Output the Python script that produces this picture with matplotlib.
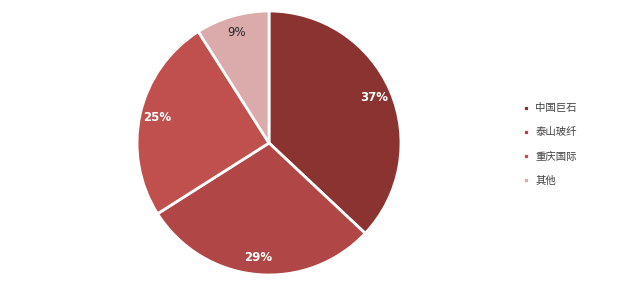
import matplotlib.pyplot as plt

plt.rcParams['font.family'] = ['Noto Sans CJK SC', 'DejaVu Sans']

#-----------Data------------
labels = ["中国巨石", "泰山玻纤", "重庆国际", "其他"]
shares = [37, 29, 25, 9]
colors = ["#8B3331", "#B04645", "#C0504D", "#DBABAB"]
pct_colors = ["white", "white", "white", "#262626"]

fig = plt.figure(figsize=(6.35, 3.02), dpi=100)
ax = fig.add_axes([137/635, 27/302, 264/635, 264/302])

wedges, texts, autotexts = ax.pie(
    shares, colors=colors, startangle=90, counterclock=False,
    autopct="%d%%", pctdistance=0.87,
    wedgeprops=dict(edgecolor="white", linewidth=2),
    textprops=dict(fontsize=8.5, family="DejaVu Sans"))
for t, c in zip(autotexts, pct_colors):
    t.set_color(c)
    if c == "white":
        t.set_fontweight("bold")
ax.set_xlim(-1, 1)
ax.set_ylim(-1, 1)
ax.set_aspect("equal")

#Legend
leg = fig.legend(wedges, labels, loc="upper left", bbox_to_anchor=(514/635, 1 - 94/302),
                 frameon=False, fontsize=7.5, handlelength=0.55, handleheight=0.55,
                 handletextpad=0.6, labelspacing=1.35, labelcolor="#404040")

fig.savefig("out.png", dpi=100)
